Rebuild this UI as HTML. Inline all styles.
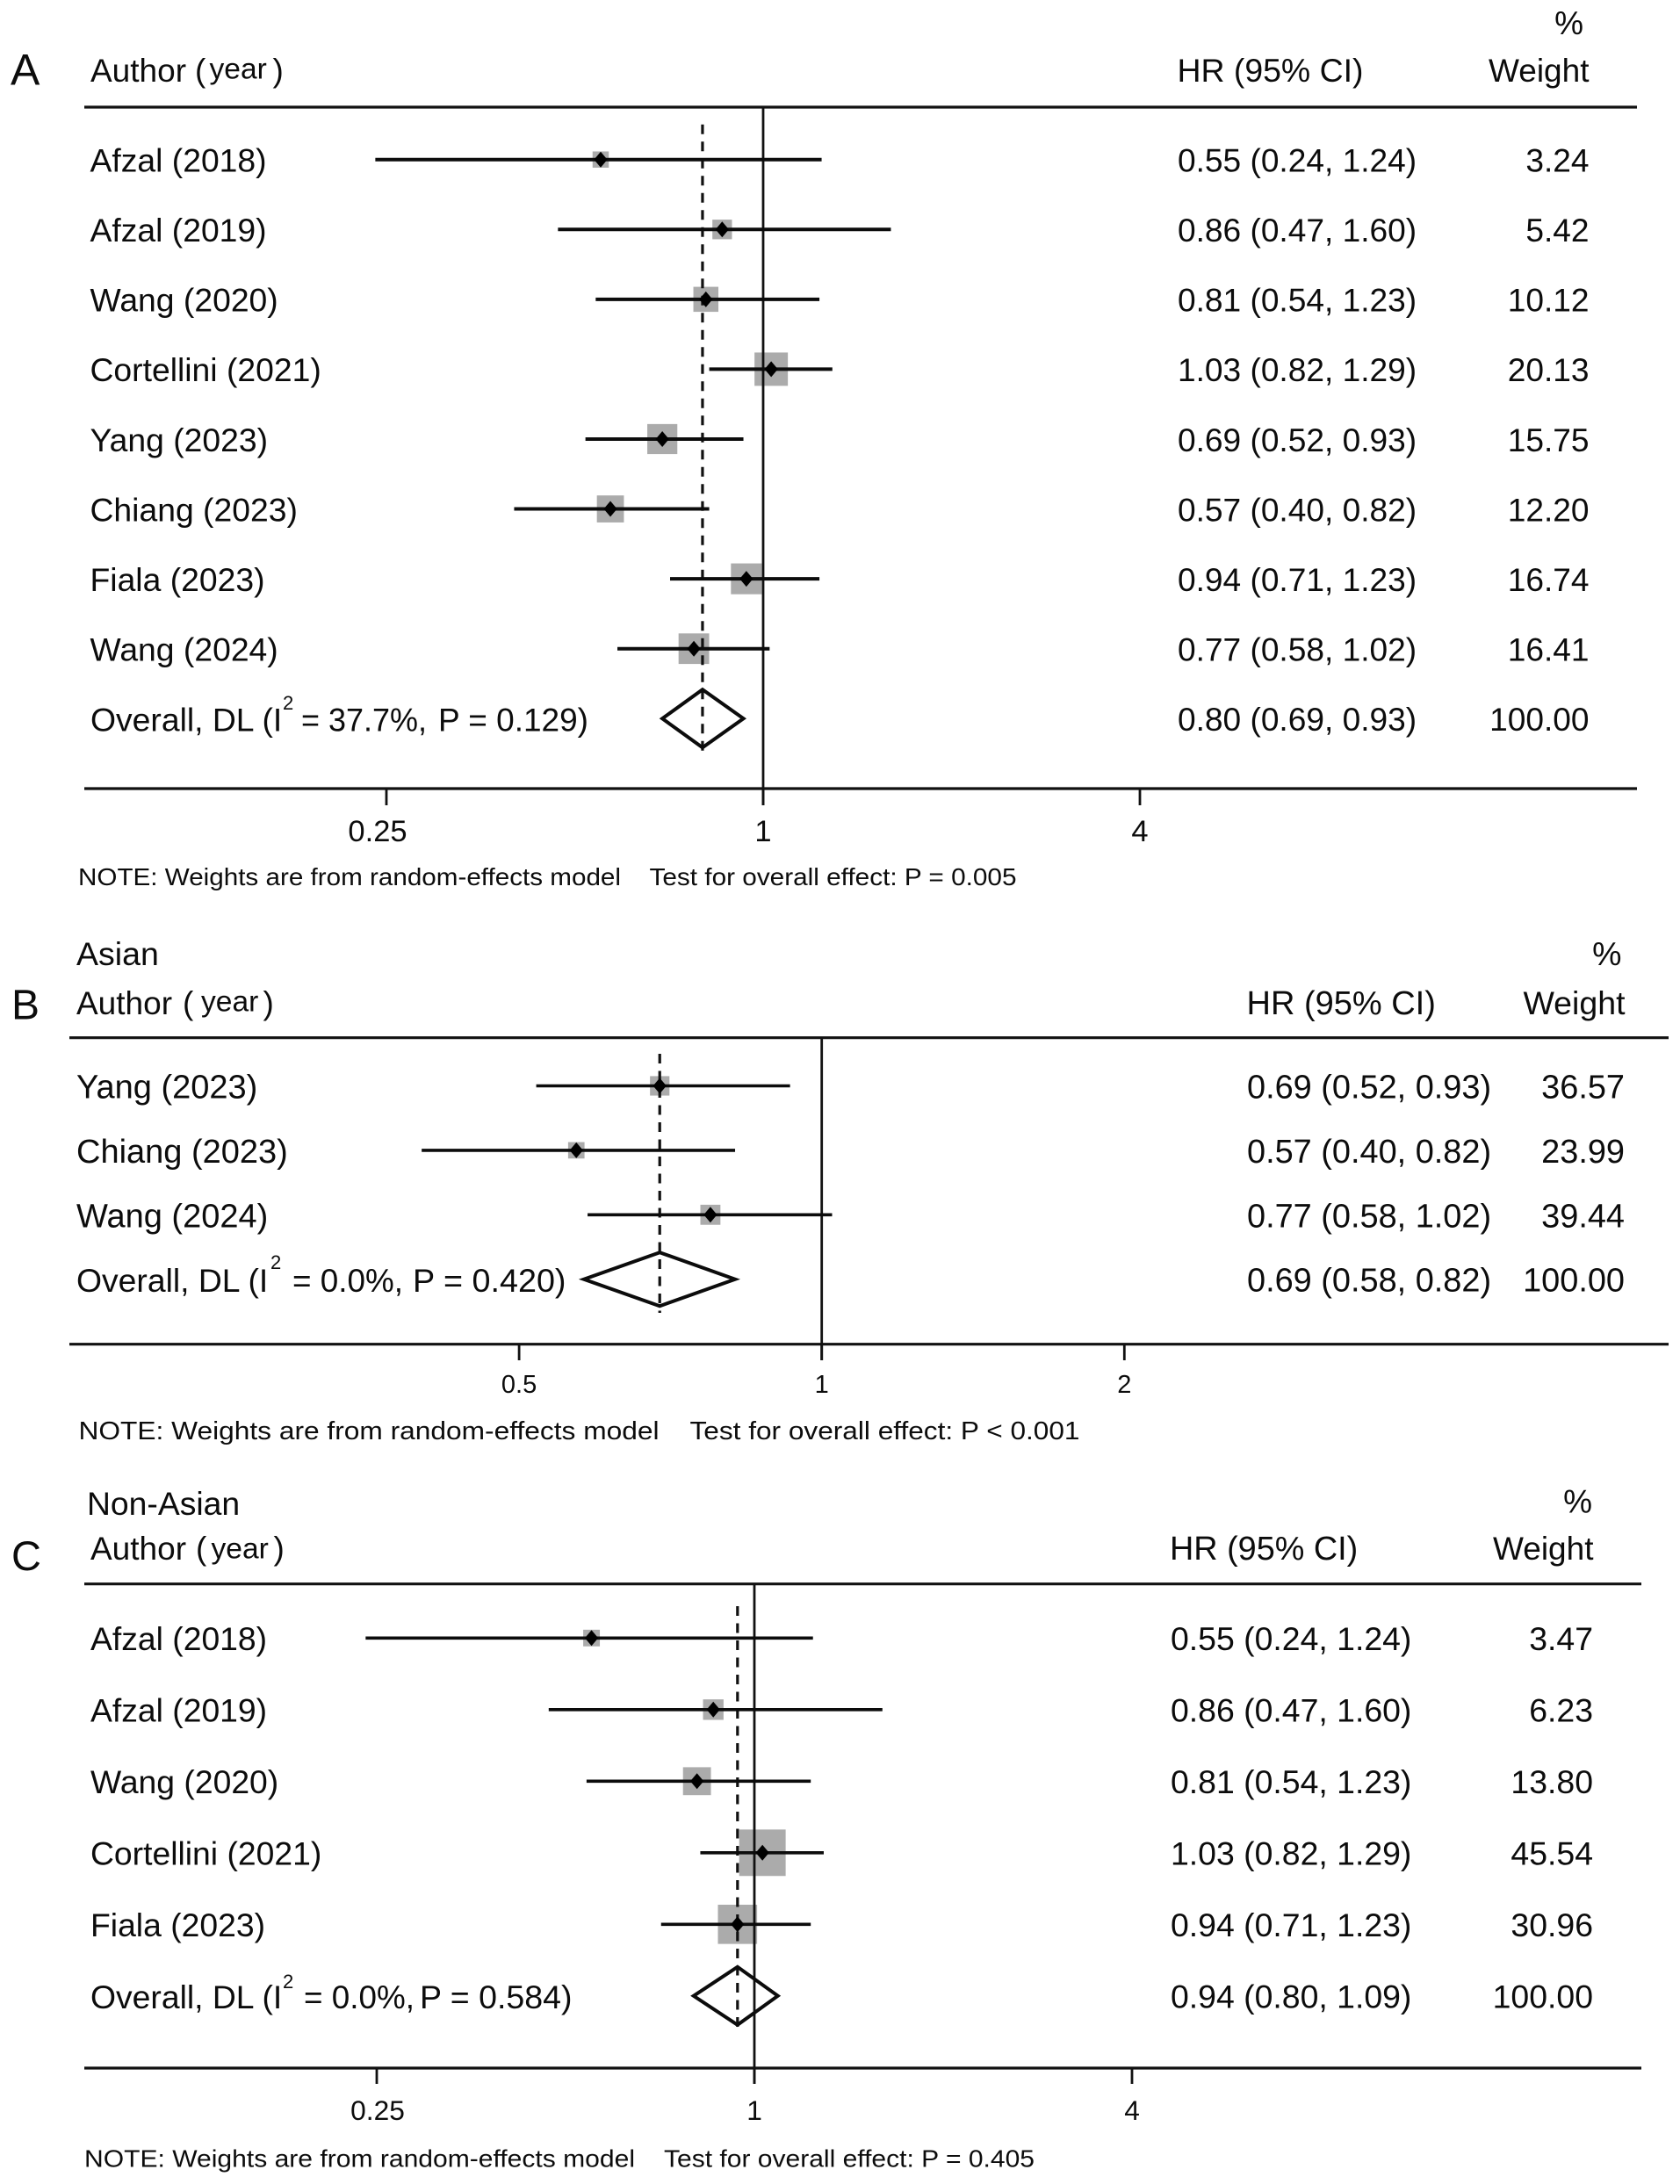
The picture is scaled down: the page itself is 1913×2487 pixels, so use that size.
<!DOCTYPE html>
<html lang="en">
<head>
<meta charset="utf-8">
<title>Forest plots of hazard ratios</title>
<style>
html,body{margin:0;padding:0;background:#fff;}
svg{display:block;}
text{font-family:"Liberation Sans",Arial,sans-serif;fill:#0c0c0c;}
</style>
</head>
<body>
<svg id="figure" xmlns="http://www.w3.org/2000/svg" width="1913" height="2487" viewBox="0 0 1913 2487">
  <rect x="0" y="0" width="1913" height="2487" fill="#fff"/>

  <!-- Panel A static text -->
  <g>
    <text x="12" y="96.7" font-size="50">A</text>
    <text x="103" y="93" font-size="37">Author</text>
    <text x="222" y="93" font-size="37">(</text>
    <text x="238.5" y="89.5" font-size="33.6">year</text>
    <text x="310.5" y="93" font-size="37">)</text>
    <text x="1340.5" y="93" font-size="37.4">HR (95% CI)</text>
    <text x="1803" y="39" font-size="37" text-anchor="end">%</text>
    <text x="1809.5" y="93" font-size="37" text-anchor="end">Weight</text>
  </g>
  <g>
    <text x="103" y="832.7" font-size="37.3">Overall, DL (I</text>
    <text x="322" y="808" font-size="22">2</text>
    <text x="343" y="832.7" font-size="37.3" textLength="143" lengthAdjust="spacingAndGlyphs">= 37.7%,</text>
    <text x="499" y="832.7" font-size="37.3" textLength="171" lengthAdjust="spacingAndGlyphs">P = 0.129)</text>
  </g>
  <g>
    <text x="89" y="1008" font-size="27.5" textLength="618" lengthAdjust="spacingAndGlyphs">NOTE: Weights are from random-effects model</text>
    <text x="739.5" y="1008" font-size="27.5" textLength="418" lengthAdjust="spacingAndGlyphs">Test for overall effect: P = 0.005</text>
  </g>

  <!-- Panel B static text -->
  <g>
    <text x="87" y="1099" font-size="37.5">Asian</text>
    <text x="13" y="1160.6" font-size="48">B</text>
    <text x="87" y="1155" font-size="37">Author</text>
    <text x="208" y="1155" font-size="37">(</text>
    <text x="229" y="1151.5" font-size="33.6">year</text>
    <text x="299.5" y="1155" font-size="37">)</text>
    <text x="1419.5" y="1155" font-size="38">HR (95% CI)</text>
    <text x="1846.5" y="1099" font-size="37.5" text-anchor="end">%</text>
    <text x="1850.5" y="1155" font-size="37.5" text-anchor="end">Weight</text>
  </g>
  <g>
    <text x="87" y="1471" font-size="37.3">Overall, DL (I</text>
    <text x="308" y="1445" font-size="22">2</text>
    <text x="333" y="1471" font-size="37.3" textLength="126" lengthAdjust="spacingAndGlyphs">= 0.0%,</text>
    <text x="470" y="1471" font-size="37.3" textLength="174.5" lengthAdjust="spacingAndGlyphs">P = 0.420)</text>
  </g>
  <g>
    <text x="89.5" y="1639" font-size="29" textLength="661" lengthAdjust="spacingAndGlyphs">NOTE: Weights are from random-effects model</text>
    <text x="785.5" y="1639" font-size="29" textLength="444" lengthAdjust="spacingAndGlyphs">Test for overall effect: P &lt; 0.001</text>
  </g>

  <!-- Panel C static text -->
  <g>
    <text x="99" y="1725" font-size="37.3">Non-Asian</text>
    <text x="13" y="1788" font-size="47">C</text>
    <text x="103" y="1776" font-size="37">Author</text>
    <text x="223" y="1776" font-size="37">(</text>
    <text x="240.5" y="1774.5" font-size="33.6">year</text>
    <text x="311.5" y="1776" font-size="37">)</text>
    <text x="1332" y="1776" font-size="37.8">HR (95% CI)</text>
    <text x="1813" y="1722.7" font-size="37" text-anchor="end">%</text>
    <text x="1814.5" y="1776" font-size="37" text-anchor="end">Weight</text>
  </g>
  <g>
    <text x="103" y="2287" font-size="37.3">Overall, DL (I</text>
    <text x="322" y="2264" font-size="22">2</text>
    <text x="346" y="2287" font-size="37.3" textLength="126" lengthAdjust="spacingAndGlyphs">= 0.0%,</text>
    <text x="478" y="2287" font-size="37.3" textLength="173.5" lengthAdjust="spacingAndGlyphs">P = 0.584)</text>
  </g>
  <g>
    <text x="96" y="2467.7" font-size="27.5" textLength="627" lengthAdjust="spacingAndGlyphs">NOTE: Weights are from random-effects model</text>
    <text x="756" y="2467.7" font-size="27.5" textLength="422" lengthAdjust="spacingAndGlyphs">Test for overall effect: P = 0.405</text>
  </g>

  <g id="panel-a"></g>
  <g id="panel-b"></g>
  <g id="panel-c"></g>
</svg>

<script>
// ---- Panel A data (all studies) ----
var panelAStudies = ['Afzal (2018)', 'Afzal (2019)', 'Wang (2020)', 'Cortellini (2021)', 'Yang (2023)', 'Chiang (2023)', 'Fiala (2023)', 'Wang (2024)'];
var panelAHR = [0.55, 0.86, 0.81, 1.03, 0.69, 0.57, 0.94, 0.7749];
var panelALower = [0.24, 0.47, 0.54, 0.82, 0.52, 0.40, 0.71, 0.5849];
var panelAUpper = [1.24, 1.60, 1.23, 1.29, 0.93, 0.82, 1.23, 1.024];
var panelAWeights = [3.24, 5.42, 10.12, 20.13, 15.75, 12.20, 16.74, 16.41];
var panelAOverall = [0.80, 0.69, 0.93];
var panelATicks = [0.25, 1, 4];
var panelATickLabels = ['0.25', '1', '4'];

// ---- Panel B data (Asian subgroup) ----
var panelBStudies = ['Yang (2023)', 'Chiang (2023)', 'Wang (2024)'];
var panelBHR = [0.69, 0.57, 0.7749];
var panelBLower = [0.52, 0.40, 0.5849];
var panelBUpper = [0.93, 0.82, 1.024];
var panelBWeights = [36.57, 23.99, 39.44];
var panelBOverall = [0.69, 0.58, 0.82];
var panelBTicks = [0.5, 1, 2];
var panelBTickLabels = ['0.5', '1', '2'];

// ---- Panel C data (Non-Asian subgroup) ----
var panelCStudies = ['Afzal (2018)', 'Afzal (2019)', 'Wang (2020)', 'Cortellini (2021)', 'Fiala (2023)'];
var panelCHR = [0.55, 0.86, 0.81, 1.03, 0.94];
var panelCLower = [0.24, 0.47, 0.54, 0.82, 0.71];
var panelCUpper = [1.24, 1.60, 1.23, 1.29, 1.23];
var panelCWeights = [3.47, 6.23, 13.80, 45.54, 30.96];
var panelCOverall = [0.94, 0.80, 1.09];
var panelCTicks = [0.25, 1, 4];
var panelCTickLabels = ['0.25', '1', '4'];

var SVG_NS = 'http://www.w3.org/2000/svg';

function make(parent, tag, geometry) {
  var el = document.createElementNS(SVG_NS, tag);
  for (var key in geometry) {
    el.setAttribute(key, geometry[key]);
  }
  parent.appendChild(el);
  return el;
}

function drawPanel(host, d, s) {
  var x = function (v) { return s.xOne + s.pxPerDoubling * Math.log2(v); };
  var y = function (i) { return s.firstRow + s.rowStep * i; };
  var side = function (w) { return s.sqA + s.sqB * Math.sqrt(w); };
  var n = d.studies.length;
  var el, i;

  el = make(host, 'line', {x1: s.left, x2: s.right, y1: s.ruleTop, y2: s.ruleTop, stroke: '#111', 'stroke-width': 3.2});
  
  

  // weight squares sit beneath all lines
  for (i = 0; i < n; i++) {
    var sz = side(d.weights[i]);
    el = make(host, 'rect', {x: x(d.hr[i]) - sz / 2, y: y(i) - sz / 2, width: sz, height: sz, fill: '#ababab'});
    
    
  }

  el = make(host, 'line', {x1: x(1), x2: x(1), y1: s.ruleTop, y2: s.tickEnd, stroke: '#111', 'stroke-width': 2.8});
  
  

  el = make(host, 'line', {x1: s.left, x2: s.right, y1: s.axisY, y2: s.axisY, stroke: '#111', 'stroke-width': 3.2});
  
  

  for (i = 0; i < d.ticks.length; i++) {
    el = make(host, 'line', {x1: x(d.ticks[i]), x2: x(d.ticks[i]), y1: s.axisY, y2: s.tickEnd, stroke: '#111', 'stroke-width': 2.8});
    
    

    el = make(host, 'text', {x: x(d.ticks[i]) + (i === 0 ? s.firstTickDx : 0), y: s.tickLabelY, 'font-size': s.tickFont, 'text-anchor': 'middle'});
    el.textContent = d.tickLabels[i];
    
    
  }

  // pooled-estimate dashed reference line
  el = make(host, 'line', {x1: x(d.overall[0]), x2: x(d.overall[0]), y1: s.dashTop, y2: s.dashBottom, stroke: '#111', 'stroke-width': 3.2, 'stroke-dasharray': '11 8.5'});
  
  

  for (i = 0; i < n; i++) {
    el = make(host, 'line', {x1: x(d.lower[i]), x2: x(d.upper[i]), y1: y(i), y2: y(i), stroke: '#0c0c0c', 'stroke-width': s.ciWidth});
    
    

    var cx = x(d.hr[i]);
    var cy = y(i);
    el = make(host, 'polygon', {points: (cx - 7.6) + ',' + cy + ' ' + cx + ',' + (cy - 9) + ' ' + (cx + 7.6) + ',' + cy + ' ' + cx + ',' + (cy + 9), fill: '#000'});
    
    

    el = make(host, 'text', {x: s.labelX, y: cy + s.baseline, 'font-size': s.labelFont});
    el.textContent = d.studies[i];
    
    

    el = make(host, 'text', {x: s.hrX, y: cy + s.baseline, 'font-size': s.valueFont});
    el.textContent = d.hr[i].toFixed(2) + ' (' + d.lower[i].toFixed(2) + ', ' + d.upper[i].toFixed(2) + ')';
    
    

    el = make(host, 'text', {x: s.weightX, y: cy + s.baseline, 'font-size': s.valueFont, 'text-anchor': 'end'});
    el.textContent = d.weights[i].toFixed(2);
    
    
  }

  // overall row
  var oy = y(n);
  var ox = x(d.overall[0]);
  el = make(host, 'polygon', {points: x(d.overall[1]) + ',' + oy + ' ' + ox + ',' + (oy - s.diamondHalf) + ' ' + x(d.overall[2]) + ',' + oy + ' ' + ox + ',' + (oy + s.diamondHalf), fill: 'none', stroke: '#0c0c0c', 'stroke-width': 4});
  
  

  el = make(host, 'text', {x: s.hrX, y: oy + s.baseline, 'font-size': s.valueFont});
  el.textContent = d.overall[0].toFixed(2) + ' (' + d.overall[1].toFixed(2) + ', ' + d.overall[2].toFixed(2) + ')';
  
  

  el = make(host, 'text', {x: s.weightX, y: oy + s.baseline, 'font-size': s.valueFont, 'text-anchor': 'end'});
  el.textContent = '100.00';
  
  
}

drawPanel(document.getElementById('panel-a'),
  {studies: panelAStudies, hr: panelAHR, lower: panelALower, upper: panelAUpper, weights: panelAWeights, overall: panelAOverall, ticks: panelATicks, tickLabels: panelATickLabels},
  {xOne: 869, pxPerDoubling: 214.5, firstRow: 181.7, rowStep: 79.57, left: 96, right: 1864, ruleTop: 122, axisY: 898, tickEnd: 917, tickLabelY: 958, tickFont: 34.5, firstTickDx: -10, dashTop: 141.7, dashBottom: 858, sqA: 5.4, sqB: 7.26, diamondHalf: 33, labelX: 102.5, labelFont: 37.3, hrX: 1341, weightX: 1809.5, valueFont: 37.1, baseline: 13.8, ciWidth: 4});

drawPanel(document.getElementById('panel-b'),
  {studies: panelBStudies, hr: panelBHR, lower: panelBLower, upper: panelBUpper, weights: panelBWeights, overall: panelBOverall, ticks: panelBTicks, tickLabels: panelBTickLabels},
  {xOne: 935.7, pxPerDoubling: 344.6, firstRow: 1236.5, rowStep: 73.4, left: 79, right: 1900, ruleTop: 1181.7, axisY: 1530.7, tickEnd: 1549, tickLabelY: 1586, tickFont: 29, firstTickDx: 0, dashTop: 1200, dashBottom: 1495, sqA: 4, sqB: 3, diamondHalf: 30.5, labelX: 87, labelFont: 38, hrX: 1420, weightX: 1850, valueFont: 37.9, baseline: 14, ciWidth: 3.6});

drawPanel(document.getElementById('panel-c'),
  {studies: panelCStudies, hr: panelCHR, lower: panelCLower, upper: panelCUpper, weights: panelCWeights, overall: panelCOverall, ticks: panelCTicks, tickLabels: panelCTickLabels},
  {xOne: 859, pxPerDoubling: 215, firstRow: 1865.3, rowStep: 81.5, left: 96, right: 1869, ruleTop: 1803.7, axisY: 2355, tickEnd: 2373, tickLabelY: 2414, tickFont: 31.7, firstTickDx: 1, dashTop: 1829, dashBottom: 2313, sqA: 6, sqB: 6.95, diamondHalf: 33, labelX: 103, labelFont: 37.3, hrX: 1333, weightX: 1814, valueFont: 37.4, baseline: 13.7, ciWidth: 3.6});
</script>
</body>
</html>
